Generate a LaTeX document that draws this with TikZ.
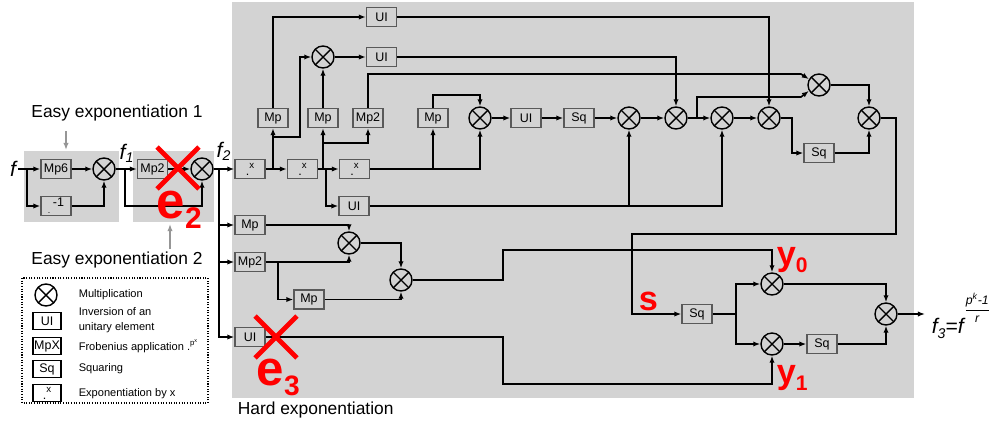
\documentclass[tikz,border=0pt]{standalone}
\usepackage{amsmath}
\usepackage{fontspec}
\setmainfont{Liberation Sans}
\usetikzlibrary{positioning,arrows.meta,shapes.misc}
\definecolor{panel}{RGB}{211,211,211}
\definecolor{hintgray}{RGB}{150,150,150}
\newcommand{\xpow}{\raisebox{-2.2pt}{.}\raisebox{1.8pt}{\fontsize{5.5}{5.5}\selectfont x}}
\newcommand{\invpow}{\raisebox{-3pt}{\fontsize{5}{5}\selectfont.}\hspace{1.5pt}\raisebox{1pt}{-1}}

\begin{document}
\begin{tikzpicture}[x=0.2mm,y=-0.2mm,>={Latex[length=4pt,width=3pt]},line width=0.9pt,
  box/.style={draw=black!65,fill=panel,line width=0.7pt,minimum width=6mm,minimum height=3.8mm,inner sep=0pt,font=\fontsize{7.1}{8}\selectfont},
  legbox/.style={box,draw=black,fill=white,minimum width=5.6mm,minimum height=3.4mm},
  mult/.style={circle,draw,line width=0.8pt,minimum size=4.4mm,inner sep=0pt,
    path picture={\draw[line width=0.8pt] (path picture bounding box.north west)--(path picture bounding box.south east)
      (path picture bounding box.north east)--(path picture bounding box.south west);}},
  sig/.style={inner sep=1pt,font=\fontsize{12}{14}\selectfont\itshape},
  note/.style={font=\fontsize{9.9}{12}\selectfont},
  keytext/.style={anchor=west,inner sep=0pt,align=left,font=\fontsize{6.3}{8.5}\selectfont},
  hint/.style={->,draw=hintgray,line width=1.3pt},
  redx/.style={cross out,draw=red,line width=2.8pt,minimum size=7.4mm,inner sep=0pt},
  redlbl/.style={anchor=base west,inner sep=0pt,text=red,font=\bfseries}]
\useasboundingbox (0,0) rectangle (996,423);
\fill[panel] (24,151) rectangle (119,222);
\fill[panel] (133,151) rectangle (214,222);
\fill[panel] (232,2) rectangle (914,398);

\node[note] (easy1) at (117,113) {Easy exponentiation 1};
\node[note] (easy2) at (117,260) {Easy exponentiation 2};
\node[note,anchor=west,inner sep=0pt] (hard) at (237,410) {Hard exponentiation};
\coordinate (h1a) at (66,131); \coordinate (h1b) at (66,150);
\coordinate (h2a) at (170,249); \coordinate (h2b) at (170,224);
\draw[hint] (h1a) -- (h1b);
\draw[hint] (h2a) -- (h2b);

% easy part
\node[sig] (f) at (13,169) {f};
\node[box] (mp6) at (56,169) {Mp6};
\node[box] (inv1) at (56,206) {\invpow};
\node[mult] (m1) at (104,169) {};
\node[sig] (f1) at (127,153) {f\textsubscript{1}};
\node[box] (mp2e) at (152.5,169) {Mp2};
\node[mult] (m2) at (202,169) {};
\node[sig] (f2) at (224,151) {f\textsubscript{2}};
\coordinate (b1) at (27,169);
\coordinate (b2) at (125,169);
\coordinate (c20) at (125,206);
\coordinate (b3) at (219,169);
\draw[->] (f) -- (mp6);
\draw[->] (b1) |- (inv1);
\draw[->] (mp6) -- (m1);
\draw[->] (inv1) -| (m1);
\draw[->] (m1) -- (mp2e);
\draw[->] (b2) -- (c20) -| (m2);
\draw[->] (mp2e) -- (m2);

% hard part
\node[box] (x1) at (250,169) {\xpow};
\node[box] (mpa) at (250,225) {Mp};
\node[box] (mpb) at (250,262) {Mp2};
\node[box] (uia) at (250,337) {UI};
\node[box] (x2) at (302.5,169) {\xpow};
\node[box] (x3) at (354.5,169) {\xpow};
\node[box] (mpc) at (273,118) {Mp};
\node[box] (mpd) at (323,118) {Mp};
\node[box] (mpe) at (368,118) {Mp2};
\node[mult] (m3) at (323,57) {};
\node[box] (uib) at (381.5,17) {UI};
\node[box] (uic) at (381.5,57) {UI};
\node[box] (uid) at (354,206) {UI};
\node[box] (mpf) at (433,118) {Mp};
\node[mult] (m4) at (480,118) {};
\node[box] (uie) at (526,118) {UI};
\node[box] (sqa) at (579,118) {Sq};
\node[mult] (m5) at (629,118) {};
\node[mult] (m6) at (676,118) {};
\node[mult] (m7) at (722,118) {};
\node[mult] (m8) at (769,118) {};
\node[mult] (m9) at (819,85) {};
\node[box] (sqb) at (819,153) {Sq};
\node[mult] (m10) at (869,118) {};
\node[mult] (ma) at (349,243) {};
\node[mult] (mb) at (401,280) {};
\node[box] (mpg) at (309,299.5) {Mp};
\node[box] (sqc) at (697,314) {Sq};
\node[mult] (my0) at (772,284) {};
\node[mult] (my1) at (772,344) {};
\node[box] (sqd) at (822,344) {Sq};
\node[mult] (mf) at (886,314) {};
\node[sig,anchor=base west,inner sep=0pt] (f3) at (931,333)
  {f\raisebox{-3pt}{\fontsize{8}{8}\selectfont 3}=f\raisebox{11pt}{\fontsize{7}{7}\selectfont$\dfrac{\text{p\textsuperscript{k}-1}}{\text{r}}$}};

\coordinate (c1) at (273,169);
\coordinate (c2) at (273,137);
\coordinate (c3) at (300,137);
\coordinate (c4) at (323,169);
\coordinate (c5) at (323,143);
\coordinate (c6) at (326,169);
\coordinate (c7) at (433,169);
\coordinate (c8) at (433,95);
\coordinate (c9) at (801,74);
\coordinate (c10) at (697,118);
\coordinate (c11) at (801,97);
\coordinate (c12) at (792,118);
\coordinate (c13) at (896,234);
\coordinate (c14) at (632,234);
\coordinate (c15) at (278,262);
\coordinate (c16) at (503,250);
\coordinate (c17) at (503,384);
\coordinate (c18) at (629,206);
\coordinate (c19) at (736,314);
\coordinate (fout) at (925,314);

\draw[->] (m2) -- (x1);
\draw[->] (b3) |- (mpa);
\draw[->] (b3) |- (mpb);
\draw[->] (b3) |- (uia);
\draw[->] (x1) -- (x2);
\draw[->] (x2) -- (x3);
\draw[->] (c1) -- (mpc);
\draw[->] (mpc) |- (uib);
\draw[->] (c2) -- (c3) |- (m3);
\draw[->] (c4) -- (mpd);
\draw[->] (c5) -| (mpe);
\draw[->] (mpd) -- (m3);
\draw[->] (m3) -- (uic);
\draw[->] (c6) |- (uid);
\draw[->] (x3) -| (m4);
\draw[->] (c7) -- (mpf);
\draw[->] (mpf) -- (c8) -| (m4);
\draw[->] (m4) -- (uie);
\draw[->] (uie) -- (sqa);
\draw[->] (sqa) -- (m5);
\draw[->] (m5) -- (m6);
\draw[->] (m6) -- (m7);
\draw[->] (m7) -- (m8);
\draw[->] (uib) -| (m8);
\draw[->] (uic) -| (m6);
\draw[->] (mpe) |- (c9) -- (m9.150);
\draw[->] (c10) |- (c11) -- (m9.210);
\draw[->] (m8) -- (c12) |- (sqb);
\draw[->] (sqb) -| (m10);
\draw[->] (m9) -| (m10);
\draw[->] (uid) -| (m7);
\draw[->] (c18) -- (m5);
\draw[->] (mpa) -| (ma);
\draw[->] (mpb) -| (ma);
\draw[->] (c15) |- (mpg);
\draw[->] (ma) -| (mb);
\draw[->] (mpg) -| (mb);
\draw[->] (mb) -| (c16) -| (my0);
\draw[->] (uia) -| (c17) -| (my1);
\draw[->] (m10) -| (c13) -- (c14) |- (sqc);
\draw (sqc) -- (c19);
\draw[->] (c19) |- (my0);
\draw[->] (c19) |- (my1);
\draw[->] (my1) -- (sqd);
\draw[->] (sqd) -| (mf);
\draw[->] (my0) -| (mf);
\draw[->] (mf) -- (fout);

% legend
\draw[line width=0.6pt,dash pattern=on 0.6pt off 0.9pt] (22,278) rectangle (208,403);
\node[mult] (kmul) at (46,295) {};
\node[legbox] (kui) at (47,321) {UI};
\node[legbox] (kmp) at (47,346) {MpX};
\node[legbox] (ksq) at (47,369) {Sq};
\node[legbox] (kx) at (47,393) {\xpow};
\node[keytext] (tmul) at (78,295) {Multiplication};
\node[keytext] (tui) at (78,320) {Inversion of an\\unitary element};
\node[keytext] (tmp) at (78,346) {Frobenius application .\textsuperscript{p\textsuperscript{x}}};
\node[keytext] (tsq) at (78,369) {Squaring};
\node[keytext] (tx) at (78,394) {Exponentiation by x};

% red marks
\node[redx] (xe2) at (178,168) {};
\node[redx] (xe3) at (276,337) {};
\node[redlbl,font=\bfseries\fontsize{29}{29}\selectfont] (e2) at (156,218) {e\raisebox{-5.7pt}{\fontsize{17}{17}\selectfont 2}};
\node[redlbl,font=\bfseries\fontsize{28}{28}\selectfont] (e3) at (256,385) {e\raisebox{-5.7pt}{\fontsize{16}{16}\selectfont 3}};
\node[redlbl,font=\bfseries\fontsize{19.5}{20}\selectfont] (s) at (638,310) {s};
\node[redlbl,font=\bfseries\fontsize{19.5}{20}\selectfont] (y0) at (776,265) {y\raisebox{-4pt}{\fontsize{12}{12}\selectfont 0}};
\node[redlbl,font=\bfseries\fontsize{19.5}{20}\selectfont] (y1) at (776,383) {y\raisebox{-4pt}{\fontsize{12}{12}\selectfont 1}};
\end{tikzpicture}
\end{document}
